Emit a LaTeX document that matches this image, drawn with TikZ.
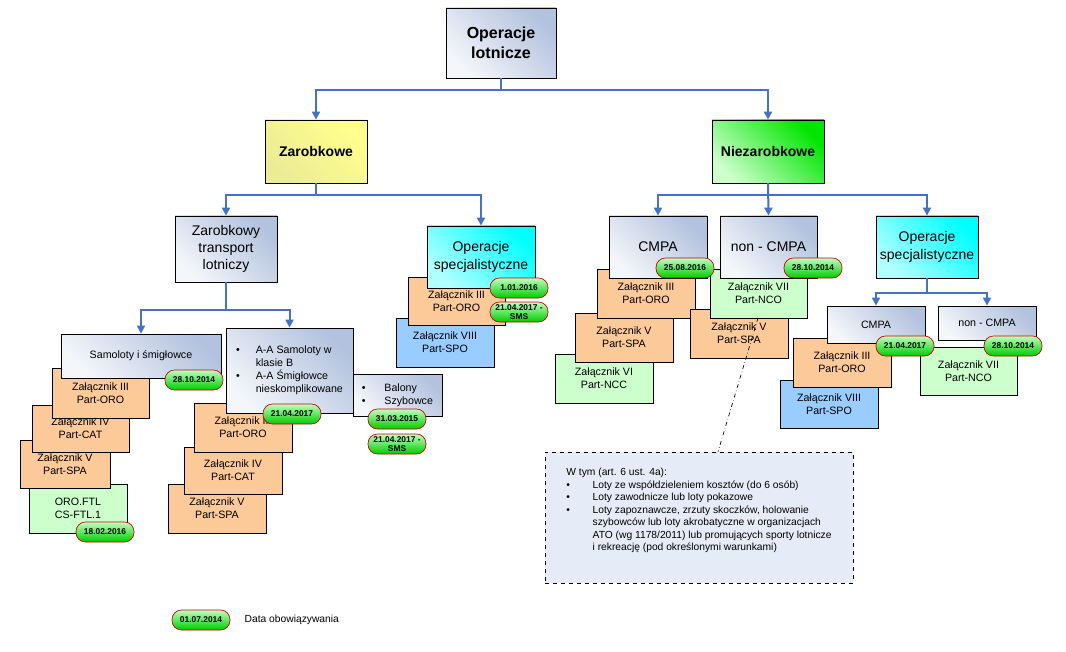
\documentclass[tikz,border=0pt]{standalone}
\usepackage{fontspec}
\setmainfont{Liberation Sans}
\usetikzlibrary{arrows.meta}
\definecolor{ln}{HTML}{4472C4}
\definecolor{peach}{HTML}{FCC998}
\definecolor{lgreen}{HTML}{CCFFCC}
\definecolor{lblue}{HTML}{99CCFF}
\definecolor{gb}{HTML}{B3C2DE}
\definecolor{note}{HTML}{E6ECF7}
\begin{document}
\begin{tikzpicture}[x=0.75pt,y=-0.75pt,
  box/.style={draw=black,line width=0.6pt,align=center,inner sep=1pt,font=\fontsize{8}{9.8}\selectfont},
  sz/.style 2 args={minimum width=#1*0.75pt,minimum height=#2*0.75pt},
  gray/.style={left color=white!85!gb,right color=gb,shading angle=135},
  pe/.style={fill=peach},
  lg/.style={fill=lgreen},
  lb/.style={fill=lblue},
  pill/.style={draw=red!80!black,line width=0.5pt,rounded corners=9.5*0.75pt,top color=green!25!white,bottom color=green!80!black,
     minimum width=58*0.75pt,minimum height=20*0.75pt,inner sep=0pt,align=center,font=\bfseries\fontsize{6.3}{6.5}\selectfont},
  arr/.style={draw=ln,line width=1.5pt,-{Triangle[width=6pt,length=6pt]}},
  lnk/.style={draw=ln,line width=1.5pt}]
\useasboundingbox (0,0) rectangle (1066,652);
% top
\node[box,sz={110}{70},gray,font=\bfseries\fontsize{12}{15}\selectfont] (top) at (501,43) {Operacje\\lotnicze};
\node[box,sz={102}{63},left color=white!60!yellow!85!gray,right color=yellow!45,shading angle=135,font=\bfseries\fontsize{10.5}{12}\selectfont] (zar) at (316,151.5) {Zarobkowe};
\node[box,sz={112}{63},left color=green!20,right color=green!90!black,shading angle=135,font=\bfseries\fontsize{10.5}{12}\selectfont] (nie) at (768,151.5) {Niezarobkowe};
\draw[arr] (top.south) -- (top.south |- 0,90) -| (zar.north);
\draw[arr] (top.south) -- (top.south |- 0,90) -| (nie.north);
% level 2
\node[box,sz={102}{66},gray,font=\fontsize{10.5}{13}\selectfont] (ztl) at (226,249) {Zarobkowy\\transport\\lotniczy};
% OpsL children
\node[box,sz={98}{49},lb] (vL) at (445,342.5) {Załącznik VIII\\Part-SPO};
\node[box,sz={97}{48},pe] (iiiL) at (456.5,301) {Załącznik III\\Part-ORO};
\node[box,sz={108}{62},left color=cyan!30,right color=cyan,shading angle=135,font=\fontsize{10.5}{13}\selectfont] (opsL) at (481,257) {Operacje\\specjalistyczne};
\node[pill] (p1) at (519,288) {1.01.2016};
\node[pill] (p2) at (519,312) {21.04.2017 -\\SMS};
\draw[arr] (zar.south) -- (zar.south |- 0,195) -| (ztl.north);
\draw[arr] (zar.south) -- (zar.south |- 0,195) -| (opsL.north);
% CMPA group
\node[box,sz={98}{49},lg] (viC) at (604,378.5) {Załącznik VI\\Part-NCC};
\node[box,sz={98}{49},pe] (vC) at (624,337.5) {Załącznik V\\Part-SPA};
\node[box,sz={98}{49},pe] (iiiC) at (646,293.5) {Załącznik III\\Part-ORO};
\node[box,sz={98}{49},pe] (vN) at (739,333.5) {Załącznik V\\Part-SPA};
\node[box,sz={97}{49},lg] (viiN) at (758.5,293.5) {Załącznik VII\\Part-NCO};
\node[box,sz={98}{62},gray,font=\fontsize{10.5}{13}\selectfont] (cmpa) at (658,247) {CMPA};
\node[box,sz={97}{62},gray,font=\fontsize{10.5}{13}\selectfont] (ncmpa) at (768.5,247) {non - CMPA};
\node[pill] (p3) at (685,268) {25.08.2016};
\node[pill] (p4) at (813,268) {28.10.2014};
\node[box,sz={102}{62},left color=cyan!30,right color=cyan,shading angle=135,font=\fontsize{10.5}{13}\selectfont] (opsR) at (927,247) {Operacje\\specjalistyczne};
\draw[arr] (nie.south) -- (nie.south |- 0,195) -| (cmpa.north);
\draw[arr] (nie.south) -- (ncmpa.north);
\draw[arr] (nie.south) -- (nie.south |- 0,195) -| (opsR.north);
% right subgroup
\node[box,sz={98}{48},lb] (viiiR) at (829,404) {Załącznik VIII\\Part-SPO};
\node[box,sz={98}{49},pe] (iiiR) at (842,362.5) {Załącznik III\\Part-ORO};
\node[box,sz={97}{48},lg] (viiR) at (968.5,371) {Załącznik VII\\Part-NCO};
\node[box,sz={98}{37},gray] (cmpaR) at (876,324.5) {CMPA};
\node[box,sz={98}{34},gray] (ncmpaR) at (987,323) {non - CMPA};
\node[pill] (p5) at (905,346) {21.04.2017};
\node[pill] (p6) at (1013,346) {28.10.2014};
\draw[arr] (opsR.south) -- (opsR.south |- 0,293) -| (cmpaR.north);
\draw[arr] (opsR.south) -- (opsR.south |- 0,293) -| (ncmpaR.north);
% left groups
\node[box,sz={98}{49},lg] (ftl) at (78,508.5) {ORO.FTL\\CS-FTL.1};
\node[box,sz={90}{48},pe] (vS) at (65,464) {Załącznik V\\Part-SPA};
\node[box,sz={97}{47},pe] (ivS) at (80.5,428.5) {Załącznik IV\\Part-CAT};
\node[box,sz={97}{50},pe] (iiiS) at (100.5,393) {Załącznik III\\Part-ORO};
\node[box,sz={160}{44},gray] (sam) at (141,356) {Samoloty i śmigłowce};
\node[pill] (p7) at (194,380) {28.10.2014};
\node[pill] (p8) at (105,532) {18.02.2016};
\node[box,sz={98}{49},pe] (vA) at (217,508.5) {Załącznik V\\Part-SPA};
\node[box,sz={98}{47},pe] (ivA) at (233,470.5) {Załącznik IV\\Part-CAT};
\node[box,sz={98}{49},pe] (iiiA) at (243,427.5) {Załącznik III\\Part-ORO};
\node[box,sz={127}{85},gray,align=left] (aa) at (289.5,370.5) {\begin{tabular}{@{}l@{\hspace{12pt}}l@{}}\textbullet&A-A Samoloty w\\&klasie B\\\textbullet&A-A Śmigłowce\\&nieskomplikowane\end{tabular}};
\node[box,sz={89}{42},gray,align=left] (bal) at (397.5,395) {\begin{tabular}{@{}l@{\hspace{14pt}}l@{}}\textbullet&Balony\\\textbullet&Szybowce\end{tabular}};
\node[pill] (p9) at (292,414) {21.04.2017};
\node[pill] (p10) at (397,419) {31.03.2015};
\node[pill] (p11) at (397,444) {21.04.2017 -\\SMS};
\draw[arr] (ztl.south) -- (ztl.south |- 0,310) -| (sam.north);
\draw[arr] (ztl.south) -- (ztl.south |- 0,310) -| (aa.north);
% note
\node[draw=black,dashed,line width=0.5pt,fill=note,minimum width=308*0.75pt,minimum height=131*0.75pt,align=left,inner sep=0pt,font=\fontsize{7.7}{9.4}\selectfont] (note) at (699,517.5)
 {\begin{tabular}{@{}l@{\hspace{17pt}}l@{}}\multicolumn{2}{@{}l}{W tym (art. 6 ust. 4a):}\\
 \textbullet&Loty ze współdzieleniem kosztów (do 6 osób)\\
 \textbullet&Loty zawodnicze lub loty pokazowe\\
 \textbullet&Loty zapoznawcze, zrzuty skoczków, holowanie\\
 &szybowców lub loty akrobatyczne w organizacjach\\
 &ATO (wg 1178/2011) lub promujących sporty lotnicze\\
 &i rekreację (pod określonymi warunkami)\\[10pt]\end{tabular}};
\coordinate (nsrc) at (758,318);
\draw[dash dot,line width=0.5pt] (nsrc) -- (note.north -| 718,0);
% legend
\node[pill] (leg) at (201,620) {01.07.2014};
\node[anchor=west,font=\fontsize{7.7}{9}\selectfont] (legt) at (240,620) {Data obowiązywania};
\end{tikzpicture}
\end{document}
